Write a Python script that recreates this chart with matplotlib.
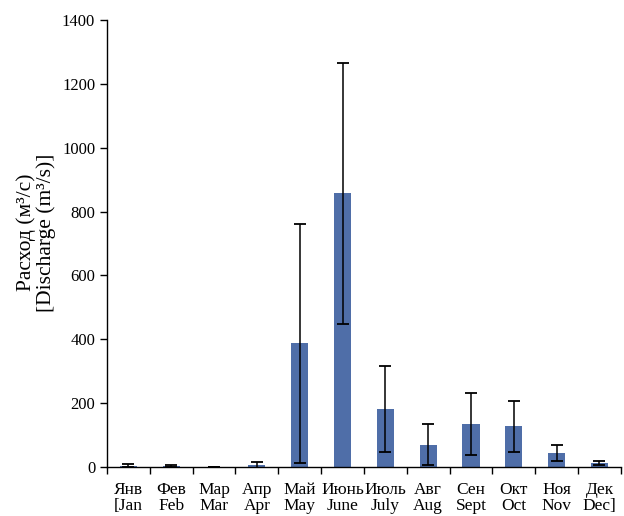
import numpy as np
from matplotlib import pyplot as plt

# Monthly discharge (m3/s): means and error bar half-lengths
months_ru = ["Янв", "Фев", "Мар", "Апр", "Май", "Июнь",
             "Июль", "Авг", "Сен", "Окт", "Ноя", "Дек"]
months_en = ["[Jan", "Feb", "Mar", "Apr", "May", "June",
             "July", "Aug", "Sept", "Oct", "Nov", "Dec]"]
discharge = [4, 3, 1, 5, 388, 857, 182, 70, 136, 128, 44, 12]
errors = [5, 2, 0.5, 12, 374, 410, 135, 65, 97, 80, 25, 7]

plt.rcParams['font.family'] = ['Liberation Serif', 'DejaVu Serif']

fig = plt.figure(figsize=(6.24, 5.16), dpi=100)
ax = fig.add_axes([0.1715, 0.095, 0.8235, 0.866])

x = np.arange(len(discharge))
ax.bar(x, discharge, width=0.4, color="#4f6ea8", zorder=2)
ax.errorbar(x, discharge, yerr=errors, fmt="none", ecolor="black",
            elinewidth=1.1, capsize=4, capthick=1.3, zorder=3)

# Axes limits and ticks
ax.set_xlim(-0.5, len(discharge) - 0.5)
ax.set_ylim(0, 1400)
ax.set_yticks(range(0, 1401, 200))
ax.set_xticks(x)
ax.set_xticklabels([r + "\n" + e for r, e in zip(months_ru, months_en)],
                   fontsize=12.5, linespacing=1.0)
ax.tick_params(axis="x", length=0, pad=11)
ax.set_xticks(np.arange(-0.5, len(discharge), 1), minor=True)
ax.tick_params(axis="x", which="minor", length=5, width=1, direction="out")
ax.tick_params(axis="y", labelsize=12, length=5, width=1, direction="out")

for side in ["top", "right"]:
    ax.spines[side].set_visible(False)
ax.spines["left"].set_linewidth(1)
ax.spines["bottom"].set_linewidth(1)

ax.set_ylabel("Расход (м³/с)\n[Discharge (m³/s)]", fontsize=15.5,
              linespacing=1.0)
ax.yaxis.set_label_coords(-0.1, 0.525)

plt.savefig("out.png", dpi=100)
